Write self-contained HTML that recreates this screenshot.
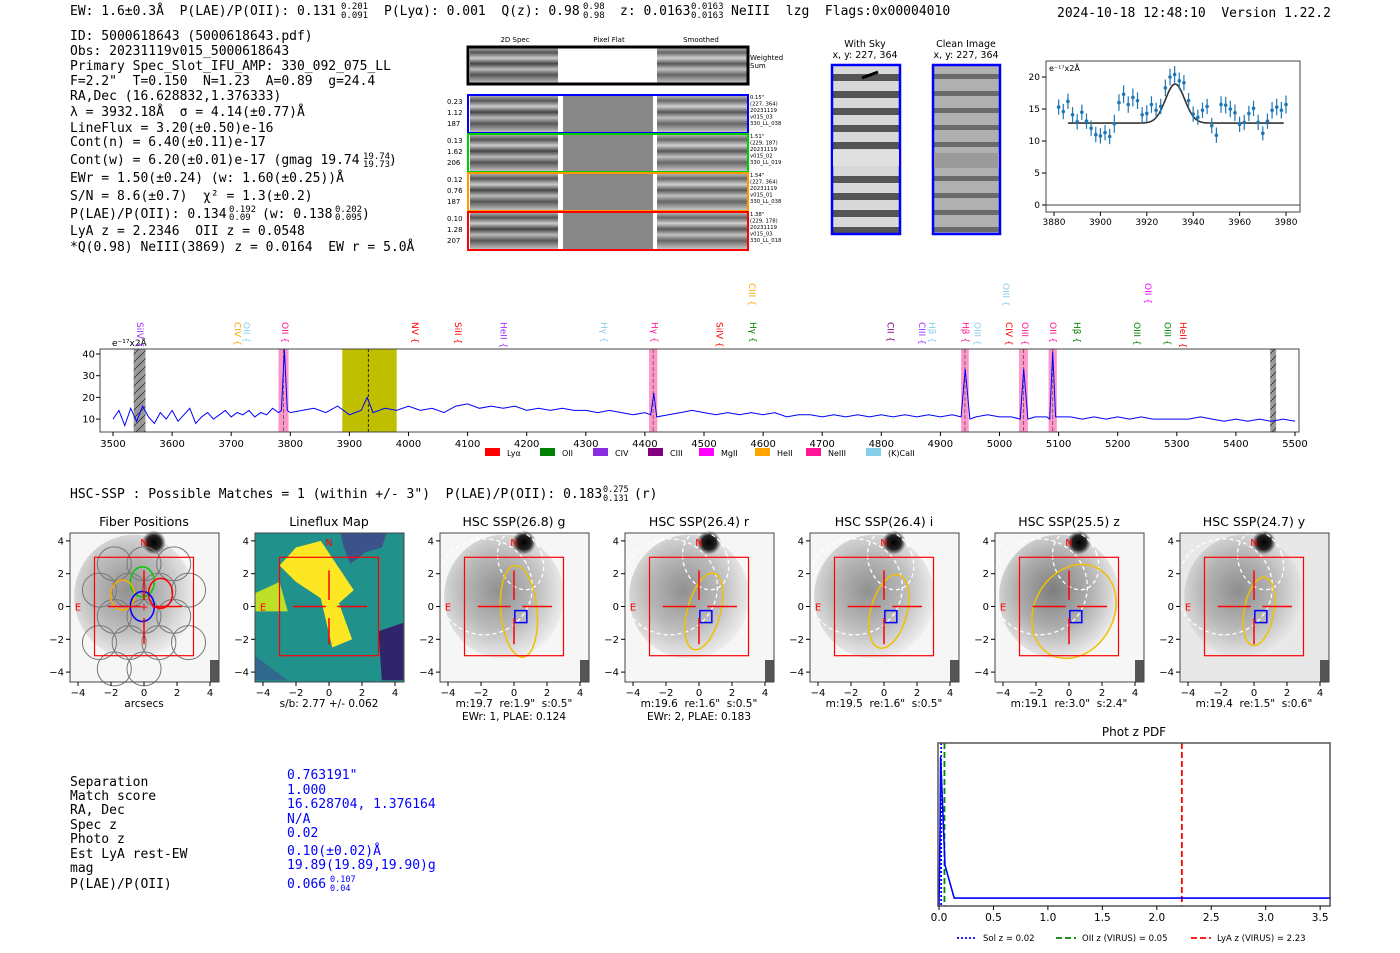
<!DOCTYPE html>
<html><head><meta charset="utf-8">
<style>
html,body{margin:0;padding:0;background:#fff;}
svg{display:block;font-family:"DejaVu Sans","Liberation Sans",sans-serif;}
text{white-space:pre;}
.mono{font-family:"DejaVu Sans Mono","Liberation Mono",monospace;}
</style></head>
<body>
<svg id="page" width="1400" height="953" viewBox="0 0 1400 953" xml:space="preserve">
<defs>
  <linearGradient id="bands" x1="0" y1="0" x2="0" y2="1">
    <stop offset="0" stop-color="#bbb"/><stop offset="0.15" stop-color="#555"/><stop offset="0.3" stop-color="#ccc"/>
    <stop offset="0.45" stop-color="#444"/><stop offset="0.6" stop-color="#bbb"/><stop offset="0.75" stop-color="#555"/><stop offset="1" stop-color="#ccc"/>
  </linearGradient>
  <pattern id="skyp" width="68" height="17" patternUnits="userSpaceOnUse">
    <rect width="68" height="17" fill="#d8d8d8"/><rect y="6" width="68" height="7" fill="#555"/>
  </pattern>
  <pattern id="cleanp" width="68" height="17" patternUnits="userSpaceOnUse">
    <rect width="68" height="17" fill="#b0b0b0"/><rect y="6" width="68" height="5" fill="#6a6a6a"/>
  </pattern>
  <radialGradient id="gal" cx="0.45" cy="0.45" r="0.6">
    <stop offset="0" stop-color="#777"/><stop offset="0.5" stop-color="#aaa"/><stop offset="1" stop-color="#f4f4f4"/>
  </radialGradient>
  <radialGradient id="star"><stop offset="0" stop-color="#000"/><stop offset="0.6" stop-color="#222"/><stop offset="1" stop-color="#222" stop-opacity="0"/></radialGradient>
  <pattern id="hatch" width="8" height="8" patternUnits="userSpaceOnUse"><rect width="8" height="8" fill="#999"/><path d="M0 8 L8 0" stroke="#333" stroke-width="0.8"/></pattern>
</defs>

<g class="mono" font-size="13" fill="#000">
  <text x="70" y="15">EW: 1.6±0.3Å  P(LAE)/P(OII): 0.131</text>
  <text x="341" y="9" font-size="9">0.201</text><text x="341" y="18" font-size="9">0.091</text>
  <text x="384" y="15">P(Lyα): 0.001  Q(z): 0.98</text>
  <text x="583" y="9" font-size="9">0.98</text><text x="583" y="18" font-size="9">0.98</text>
  <text x="620" y="15">z: 0.0163</text>
  <text x="691" y="9" font-size="9">0.0163</text><text x="691" y="18" font-size="9">0.0163</text>
  <text x="731" y="15">NeIII  lzg  Flags:0x00004010</text>
  <text x="1057" y="17">2024-10-18 12:48:10  Version 1.22.2</text>
</g>

<g class="mono" font-size="13" fill="#000">
  <text x="70" y="40">ID: 5000618643 (5000618643.pdf)</text>
  <text x="70" y="55">Obs: 20231119v015_5000618643</text>
  <text x="70" y="70">Primary Spec_Slot_IFU_AMP: 330_092_075_LL</text>
  <text x="70" y="85">F=2.2"  T=0.150  N=1.23  A=0.89  g=24.4</text>
  <text x="70" y="100">RA,Dec (16.628832,1.376333)</text>
  <text x="70" y="116">λ = 3932.18Å  σ = 4.14(±0.77)Å</text>
  <text x="70" y="132">LineFlux = 3.20(±0.50)e-16</text>
  <text x="70" y="146">Cont(n) = 6.40(±0.11)e-17</text>
  <text x="70" y="164">Cont(w) = 6.20(±0.01)e-17 (gmag 19.74</text>
  <text x="363" y="159" font-size="9">19.74</text><text x="363" y="167" font-size="9">19.73</text><text x="389" y="164">)</text>
  <text x="70" y="182">EWr = 1.50(±0.24) (w: 1.60(±0.25))Å</text>
  <text x="70" y="200">S/N = 8.6(±0.7)  χ² = 1.3(±0.2)</text>
  <text x="70" y="218">P(LAE)/P(OII): 0.134</text>
  <text x="229" y="212" font-size="9">0.192</text><text x="229" y="220" font-size="9">0.09</text>
  <text x="262" y="218">(w: 0.138</text>
  <text x="335" y="212" font-size="9">0.202</text><text x="335" y="220" font-size="9">0.095</text><text x="362" y="218">)</text>
  <text x="70" y="235">LyA z = 2.2346  OII z = 0.0548</text>
  <text x="70" y="251">*Q(0.98) NeIII(3869) z = 0.0164  EW r = 5.0Å</text>
</g>

<g id="spec2d" font-size="7">
  <text x="515" y="42" text-anchor="middle">2D Spec</text>
  <text x="609" y="42" text-anchor="middle">Pixel Flat</text>
  <text x="701" y="42" text-anchor="middle">Smoothed</text>
</g>

<g font-size="9.5">
  <text x="865" y="47" text-anchor="middle">With Sky</text>
  <text x="865" y="58" text-anchor="middle">x, y: 227, 364</text>
  <rect x="832" y="65" width="68" height="169" fill="url(#skyp)" stroke="#00f" stroke-width="2.5"/>
  <rect x="833" y="150" width="66" height="16" fill="#e0e0e0"/>
  <line x1="862" y1="78" x2="878" y2="72" stroke="#000" stroke-width="3"/>
  <text x="966" y="47" text-anchor="middle">Clean Image</text>
  <text x="966" y="58" text-anchor="middle">x, y: 227, 364</text>
  <rect x="933" y="65" width="67" height="169" fill="url(#cleanp)" stroke="#00f" stroke-width="2.5"/>
  <rect x="934" y="153" width="65" height="15" fill="#9a9a9a"/>
</g>

<g id="fit"></g>
<g id="spec"></g>

<text x="70" y="498" class="mono" font-size="13">HSC-SSP : Possible Matches = 1 (within +/- 3")  P(LAE)/P(OII): 0.183</text>
<text x="603" y="492" class="mono" font-size="8.5">0.275</text><text x="603" y="501" class="mono" font-size="8.5">0.131</text>
<text x="634" y="498" class="mono" font-size="13">(r)</text>

<g id="cutouts"></g>

<g class="mono" font-size="13">
  <text x="70" y="786">Separation</text><text x="287" y="779" fill="#00f">0.763191"</text>
  <text x="70" y="800">Match score</text><text x="287" y="794" fill="#00f">1.000</text>
  <text x="70" y="814">RA, Dec</text><text x="287" y="808" fill="#00f">16.628704, 1.376164</text>
  <text x="70" y="829">Spec z</text><text x="287" y="823" fill="#00f">N/A</text>
  <text x="70" y="843">Photo z</text><text x="287" y="837" fill="#00f">0.02</text>
  <text x="70" y="858">Est LyA rest-EW</text><text x="287" y="855" fill="#00f">0.10(±0.02)Å</text>
  <text x="70" y="872">mag</text><text x="287" y="869" fill="#00f">19.89(19.89,19.90)g</text>
  <text x="70" y="888">P(LAE)/P(OII)</text><text x="287" y="888" fill="#00f">0.066</text>
  <text x="330" y="882" font-size="8.5" fill="#00f">0.107</text><text x="330" y="891" font-size="8.5" fill="#00f">0.04</text>
</g>

<g id="photz"></g>
</svg>

<script>
const NS='http://www.w3.org/2000/svg';
function mk(parent,tag,attrs,txt){const e=document.createElementNS(NS,tag);for(const k in attrs)e.setAttribute(k,attrs[k]);if(txt!==undefined)e.textContent=txt;parent.appendChild(e);return e;}

const rowColors=['#000','#00f','#0c0','#f90','#f00'];
const rowTops=[47,95,134,173,212];
const rowLabels=[[],['0.23','1.12','187'],['0.13','1.62','206'],['0.12','0.76','187'],['0.10','1.28','207']];
const rowNotes=[['Weighted','Sum'],['0.15"','(227, 364)','20231119','v015_03','330_LL_038'],['1.51"','(229, 187)','20231119','v015_02','330_LL_019'],['1.54"','(227, 364)','20231119','v015_01','330_LL_038'],['1.38"','(229, 178)','20231119','v015_03','330_LL_018']];
(function(){
 const g=document.getElementById('spec2d');
 rowTops.forEach((t,i)=>{
  const h=i===0?37:38;
  const r=mk(g,'g',{});
  
  
  mk(r,'rect',{x:470,y:t,width:88,height:h,fill:'url(#bands)'});
  mk(r,'rect',{x:563,y:t,width:90,height:h,fill:i===0?'#fff':'#888'});
  mk(r,'rect',{x:657,y:t,width:90,height:h,fill:'url(#bands)',opacity:0.9});
  mk(r,'rect',{x:468,y:t,width:280,height:h,fill:'none',stroke:rowColors[i],'stroke-width':i===0?3:2});
  rowLabels[i].forEach((s,j)=>mk(r,'text',{x:447,y:t+9+j*11,'font-size':7},s));
  rowNotes[i].forEach((s,j)=>mk(r,'text',{x:750,y:t+(i===0?13:4)+j*(i===0?8:6.5),'font-size':i===0?7:5.3},s));
 });
})();

const fitWave=[3882,3884,3886,3888,3890,3892,3894,3896,3898,3900,3902,3904,3906,3908,3910,3912,3914,3916,3918,3920,3922,3924,3926,3928,3930,3932,3934,3936,3938,3940,3942,3944,3946,3948,3950,3952,3954,3956,3958,3960,3962,3964,3966,3968,3970,3972,3974,3976,3978,3980];
const fitFlux=[15.3,14.6,16.2,14.1,13.0,14.5,13.1,12.0,11.0,10.8,11.3,10.7,12.7,16.0,17.3,15.7,16.8,16.3,14.1,14.3,15.7,14.8,15.4,18.3,20.0,20.4,19.4,19.1,16.3,14.2,13.7,14.8,15.4,12.4,10.9,15.7,15.6,15.0,14.4,12.6,12.9,14.3,15.1,12.9,11.2,13.1,14.8,15.3,14.8,15.7];
const fitErr=[1.2,1.2,1.2,1.2,1.2,1.2,1.2,1.2,1.2,1.2,1.2,1.2,1.4,1.3,1.4,1.3,1.4,1.3,1.2,1.3,1.3,1.2,1.2,1.3,1.3,1.3,1.3,1.2,1.2,1.2,1.2,1.2,1.2,1.2,1.2,1.3,1.3,1.3,1.3,1.2,1.2,1.2,1.2,1.2,1.1,1.2,1.3,1.3,1.3,1.4];
const fitYTicks=[0,5,10,15,20];
const fitXTicks=[3880,3900,3920,3940,3960,3980];
const fitCont=12.8, fitAmp=6.1, fitMu=3932.2, fitSigma=4.14;
(function(){
 const g=document.getElementById('fit');
 const x=w=>1054+(w-3880)*2.32, y=v=>205-v*6.4;
 mk(g,'rect',{x:1046,y:61,width:254,height:151,fill:'none',stroke:'#444','stroke-width':1});
 mk(g,'line',{x1:1046,x2:1300,y1:y(0),y2:y(0),stroke:'#444','stroke-width':1});
 fitYTicks.forEach(v=>{mk(g,'line',{x1:1042,x2:1046,y1:y(v),y2:y(v),stroke:'#000'});mk(g,'text',{x:1040,y:y(v)+3,'font-size':9,'text-anchor':'end'},v);});
 fitXTicks.forEach(v=>{mk(g,'line',{x1:x(v),x2:x(v),y1:212,y2:216,stroke:'#000'});mk(g,'text',{x:x(v),y:225,'font-size':9,'text-anchor':'middle'},v);});
 mk(g,'text',{x:1049,y:71,'font-size':8},'e⁻¹⁷x2Å');
 let d='';
 for(let w=3886;w<=3979;w+=0.5){const v=fitCont+fitAmp*Math.exp(-0.5*((w-fitMu)/fitSigma)**2);d+=(d?'L':'M')+x(w).toFixed(1)+' '+y(v).toFixed(1);}
 const m=mk(g,'path',{d:d,fill:'none',stroke:'#333','stroke-width':1.6});
 
 
 fitWave.forEach((w,i)=>{
  const p=mk(g,'g',{});
  
  
  mk(p,'line',{x1:x(w),x2:x(w),y1:y(fitFlux[i]-fitErr[i]),y2:y(fitFlux[i]+fitErr[i]),stroke:'#1f77b4','stroke-width':1.2});
  mk(p,'circle',{cx:x(w),cy:y(fitFlux[i]),r:1.8,fill:'#1f77b4'});
 });
})();

const specWave=[3500,3510,3520,3530,3540,3550,3560,3570,3580,3590,3600,3610,3620,3630,3640,3650,3660,3670,3680,3690,3700,3710,3720,3730,3740,3750,3760,3770,3780,3785,3790,3795,3800,3820,3840,3860,3880,3900,3920,3930,3940,3960,3980,4000,4020,4040,4060,4080,4100,4120,4140,4160,4180,4200,4220,4240,4260,4280,4300,4320,4340,4360,4380,4400,4410,4415,4420,4440,4460,4480,4500,4520,4540,4560,4580,4600,4620,4640,4660,4680,4700,4720,4740,4760,4780,4800,4820,4840,4860,4880,4900,4920,4935,4942,4950,4960,4980,5000,5020,5035,5041,5048,5060,5080,5085,5090,5095,5100,5120,5140,5160,5180,5200,5220,5240,5260,5280,5300,5320,5340,5360,5380,5400,5420,5440,5460,5480,5500];
const specFlux=[10,14,7,15,9,16,11,8,13,10,14,9,12,15,8,11,13,10,12,14,11,13,12,14,11,13,12,15,13,14,42,14,13,14,15,13,16,12,14,20,13,15,14,16,14,15,13,16,17,15,16,15,16,14,15,14,15,14,14,13,14,13,12,13,12,22,11,12,13,14,13,12,13,12,13,12,13,11,12,12,11,12,11,12,11,12,11,12,11,12,11,12,11,33,10,11,12,11,11,10,33,10,11,11,10,41,11,11,11,10,11,10,11,10,11,10,10,10,10,11,10,9,10,9,10,9,10,9];
const specYTicks=[10,20,30,40];
const specXTicks=[3500,3600,3700,3800,3900,4000,4100,4200,4300,4400,4500,4600,4700,4800,4900,5000,5100,5200,5300,5400,5500];
const lineNames=['SiIV','CIV','OII','OII','NV','SiII','HeII','Hγ','Hγ','SiIV','Hγ','CIII','CII','CIII','Hβ','Hβ','OIII','CIV','OIII','OIII','OII','Hβ','OIII','OIII','HeII','OII'];
const lineWaves=[3545,3710,3725,3790,4010,4083,4160,4330,4415,4525,4582,4580,4815,4868,4885,4942,4962,5015,5042,5010,5090,5130,5232,5283,5310,5250];
const lineColors=['#9b30ff','#ffa500','#87ceeb','#ff1493','#ff0000','#ff0000','#9b30ff','#87ceeb','#ff1493','#ff0000','#008000','#ffa500','#800080','#9b30ff','#87ceeb','#ff1493','#87ceeb','#ff0000','#ff1493','#87ceeb','#ff1493','#008000','#008000','#008000','#ff0000','#ff00ff'];
const lineRows=[0,0,0,0,0,0,0,0,0,0,0,1,0,0,0,0,0,0,0,1,0,0,0,0,0,1];
const legendNames=['Lyα','OII','CIV','CIII','MgII','HeII','NeIII','(K)CaII'];
const legendColors=['#ff0000','#008000','#8a2be2','#800080','#ff00ff','#ffa500','#ff1493','#87ceeb'];
const pinkBands=[[3780,3797],[4407,4421],[4935,4948],[5033,5048],[5083,5097]];
(function(){
 const g=document.getElementById('spec');
 const x=w=>113+(w-3500)*0.591, y=v=>354+(40-v)*2.17;
 mk(g,'rect',{x:x(3535),y:349,width:x(3555)-x(3535),height:83,fill:'url(#hatch)'});
 mk(g,'rect',{x:x(5458),y:349,width:x(5468)-x(5458),height:83,fill:'url(#hatch)'});
 const yb=mk(g,'rect',{x:x(3888),y:349,width:x(3980)-x(3888),height:83,fill:'#bfbf00'});
 
 
 mk(g,'line',{x1:x(3932),x2:x(3932),y1:349,y2:432,stroke:'#000','stroke-dasharray':'3,2','stroke-width':0.8});
 pinkBands.forEach(b=>{
  const r=mk(g,'rect',{x:x(b[0]),y:349,width:x(b[1])-x(b[0]),height:83,fill:'#ff69b4',opacity:0.7});
  
  
  const c=(b[0]+b[1])/2;
  mk(g,'line',{x1:x(c),x2:x(c),y1:349,y2:432,stroke:'#555','stroke-dasharray':'4,2','stroke-width':0.8});
 });
 let d='';
 specWave.forEach((w,i)=>{d+=(i?'L':'M')+x(w).toFixed(1)+' '+Math.max(349,y(specFlux[i])).toFixed(1);});
 const p=mk(g,'path',{d:d,fill:'none',stroke:'#00f','stroke-width':1});
 
 
 mk(g,'rect',{x:100,y:349,width:1199,height:83,fill:'none',stroke:'#444','stroke-width':1});
 specYTicks.forEach(v=>{mk(g,'line',{x1:96,x2:100,y1:y(v),y2:y(v),stroke:'#000'});mk(g,'text',{x:95,y:y(v)+3.5,'font-size':10,'text-anchor':'end'},v);});
 specXTicks.forEach(v=>{mk(g,'line',{x1:x(v),x2:x(v),y1:432,y2:436,stroke:'#000'});mk(g,'text',{x:x(v),y:447,'font-size':10,'text-anchor':'middle'},v);});
 mk(g,'text',{x:112,y:346,'font-size':9},'e⁻¹⁷x2Å');
 lineNames.forEach((n,i)=>{
  const ly=lineRows[i]?283:322, lx=x(lineWaves[i]);
  const t=mk(g,'text',{x:lx,y:ly,'font-size':9,fill:lineColors[i],transform:'rotate(90 '+lx+' '+ly+')','dominant-baseline':'middle'},n+' {');
  
  
 });
 const lx0=[485,540,593,648,699,755,806,866];
 legendNames.forEach((n,i)=>{
  const e=mk(g,'g',{});
  
  
  mk(e,'rect',{x:lx0[i],y:448,width:15,height:8,fill:legendColors[i]});
  mk(e,'text',{x:lx0[i]+22,y:456,'font-size':8},n);
 });
})();

const panelTitles=['Fiber Positions','Lineflux Map','HSC SSP(26.8) g','HSC SSP(26.4) r','HSC SSP(26.4) i','HSC SSP(25.5) z','HSC SSP(24.7) y'];
const panelSub1=['arcsecs','s/b: 2.77 +/- 0.062','m:19.7  re:1.9"  s:0.5"','m:19.6  re:1.6"  s:0.5"','m:19.5  re:1.6"  s:0.5"','m:19.1  re:3.0"  s:2.4"','m:19.4  re:1.5"  s:0.6"'];
const panelSub2=['','','EWr: 1, PLAE: 0.124','EWr: 2, PLAE: 0.183','','',''];
const ellRx=[0,0,1.1,1.0,1.1,2.4,0.9];
const ellRy=[0,0,2.8,2.4,2.3,3.0,2.1];
const ellRot=[0,0,-5,15,15,30,10];
const axTicks=[-4,-2,0,2,4];
(function(){
 const g=document.getElementById('cutouts');
 panelTitles.forEach((title,i)=>{
  const L=[70,255,440,625,810,995,1180][i], cx=L+74, cy=606.5;
  const X=a=>cx+a*16.5, Y=b=>cy-b*16.4;
  const p=mk(g,'g',{});
  
  
  mk(p,'text',{x:cx,y:526,'font-size':12.5,'text-anchor':'middle'},title);
  if(i===1){
   mk(p,'rect',{x:L,y:533,width:149,height:149,fill:'#21918c'});
   mk(p,'path',{d:`M${X(-2)} ${Y(3.6)} L${X(-0.5)} ${Y(4)} L${X(0.5)} ${Y(2.5)} L${X(1.5)} ${Y(1)} L${X(0.6)} ${Y(0.2)} L${X(1.4)} ${Y(-2)} L${X(0.2)} ${Y(-2.5)} L${X(-0.5)} ${Y(0.5)} L${X(-2)} ${Y(1.5)} L${X(-3)} ${Y(2.5)} Z`,fill:'#fde725'});
   mk(p,'path',{d:`M${X(-4.5)} ${Y(0.8)} L${X(-3)} ${Y(1.5)} L${X(-2.5)} ${Y(-0.3)} L${X(-4.5)} ${Y(-0.3)} Z`,fill:'#bddf26'});
   mk(p,'path',{d:`M${X(0.7)} ${Y(4.5)} L${X(3.5)} ${Y(4.5)} L${X(3.2)} ${Y(3.6)} L${X(2.2)} ${Y(3.3)} L${X(1.3)} ${Y(2.6)} L${X(0.9)} ${Y(3.6)} Z`,fill:'#3b528b'});
   mk(p,'path',{d:`M${X(3)} ${Y(-1.5)} L${X(4.5)} ${Y(-1)} L${X(4.5)} ${Y(-4.5)} L${X(3.2)} ${Y(-4.5)} Z`,fill:'#30246a'});
   mk(p,'path',{d:`M${X(-4.5)} ${Y(-3)} L${X(-2.5)} ${Y(-4.5)} L${X(-4.5)} ${Y(-4.5)} Z`,fill:'#31688e'});
  } else {
   mk(p,'rect',{x:L,y:533,width:149,height:149,fill:i===6?'#e8e8e8':'#f6f6f6'});
   mk(p,'ellipse',{cx:X(-0.6),cy:Y(0.6),rx:60,ry:62,fill:'url(#gal)',opacity:i===5?0.95:0.8});
   mk(p,'circle',{cx:X(0.6),cy:Y(3.9),r:12,fill:'url(#star)'});
   mk(p,'rect',{x:L+140,y:660,width:9,height:22,fill:'#555'});
  }
  if(i===0){
   const fc=[[-1.8,2.6],[0,2.6],[1.8,2.6],[-2.7,1],[-0.9,1],[0.9,1],[2.7,1],[-1.8,-0.6],[0,-0.6],[1.8,-0.6],[-2.7,-2.2],[-0.9,-2.2],[0.9,-2.2],[2.7,-2.2],[-1.8,-3.8],[0,-3.8]];
   fc.forEach(f=>mk(p,'circle',{cx:X(f[0]),cy:Y(f[1]),r:17,fill:'none',stroke:'#777','stroke-width':1}));
   [['#0c0',-0.1,1.5],['#fa0',-1.3,0.7],['#f00',1,0.8],['#00f',-0.1,0]].forEach(c=>mk(p,'ellipse',{cx:X(c[1]),cy:Y(c[2]),rx:12,ry:15,fill:'none',stroke:c[0],'stroke-width':1.5}));
  }
  if(i>=2){
   mk(p,'circle',{cx:X(-1.8),cy:Y(1.2),r:48,fill:'none',stroke:'#fff','stroke-width':1.3,'stroke-dasharray':'4,3'});
   mk(p,'ellipse',{cx:X(0.4),cy:Y(2.8),rx:22,ry:30,fill:'none',stroke:'#fff','stroke-width':1.3,'stroke-dasharray':'4,3',transform:`rotate(-20 ${X(0.4)} ${Y(2.8)})`});
   const e=mk(p,'ellipse',{cx:X(0.3),cy:Y(-0.3),rx:ellRx[i]*16.5,ry:ellRy[i]*16.4,fill:'none',stroke:'#f0c000','stroke-width':1.5,transform:`rotate(${ellRot[i]} ${X(0.3)} ${Y(-0.3)})`});
   
   
   mk(p,'rect',{x:X(0.05),y:Y(-0.25),width:12,height:12,fill:'none',stroke:'#00f','stroke-width':1.5});
  }
  mk(p,'rect',{x:X(-3),y:Y(3),width:99,height:98.4,fill:'none',stroke:'#f00','stroke-width':1.2});
  [[X(-2.2),Y(0),X(-0.2),Y(0)],[X(0.5),Y(0),X(2.3),Y(0)],[X(0),Y(2.2),X(0),Y(0.4)],[X(0),Y(-0.7),X(0),Y(-2.3)]].forEach(l=>mk(p,'line',{x1:l[0],y1:l[1],x2:l[2],y2:l[3],stroke:'#f00','stroke-width':1.5}));
  if(i===0) mk(p,'text',{x:X(0),y:Y(0)+4,'font-size':11,fill:'#f00','text-anchor':'middle'},'+');
  mk(p,'text',{x:X(0),y:Y(4)+5,'font-size':10,fill:'#f00','text-anchor':'middle'},'N');
  mk(p,'text',{x:X(-4),y:Y(0)+4,'font-size':10,fill:'#f00','text-anchor':'middle'},'E');
  mk(p,'rect',{x:L,y:533,width:149,height:149,fill:'none',stroke:'#444','stroke-width':1});
  axTicks.forEach(v=>{
   mk(p,'line',{x1:X(v),x2:X(v),y1:682,y2:686,stroke:'#000'});
   mk(p,'text',{x:X(v),y:696,'font-size':10,'text-anchor':'middle'},(v<0?'−':'')+Math.abs(v));
   mk(p,'line',{x1:L-4,x2:L,y1:Y(v),y2:Y(v),stroke:'#000'});
   mk(p,'text',{x:L-6,y:Y(v)+3.5,'font-size':10,'text-anchor':'end'},(v<0?'−':'')+Math.abs(v));
  });
  mk(p,'text',{x:cx,y:707,'font-size':10.5,'text-anchor':'middle'},panelSub1[i]);
  if(panelSub2[i]) mk(p,'text',{x:cx,y:720,'font-size':10.5,'text-anchor':'middle'},panelSub2[i]);
 });
})();

const pdfZ=[0.0,0.01,0.015,0.055,0.14,3.6];
const pdfP=[0.0,0.5,0.95,0.26,0.05,0.05];
const photZTicks=[0,0.5,1,1.5,2,2.5,3,3.5];
const markZ=[0.02,0.05,2.23];
const markColors=['#00f','#008000','#f00'];
const markDash=['2,2','6,3','6,3'];
const markNames=['Sol z = 0.02','OII z (VIRUS) = 0.05','LyA z (VIRUS) = 2.23'];
(function(){
 const g=document.getElementById('photz');
 const x=z=>939+z*108.9, y=v=>906-v*157;
 mk(g,'text',{x:1134,y:736,'font-size':12,'text-anchor':'middle'},'Phot z PDF');
 markZ.forEach((z,i)=>{const l=mk(g,'line',{x1:x(z),x2:x(z),y1:743,y2:906,stroke:markColors[i],'stroke-width':1.8,'stroke-dasharray':markDash[i]});
  
  });
 let d='';pdfZ.forEach((z,i)=>{d+=(i?'L':'M')+x(z).toFixed(1)+' '+y(pdfP[i]).toFixed(1);});
 const p=mk(g,'path',{d:d,fill:'none',stroke:'#00f','stroke-width':1.6});
 
 
 mk(g,'rect',{x:938,y:743,width:392,height:163,fill:'none',stroke:'#555','stroke-width':1.5});
 photZTicks.forEach(v=>{mk(g,'line',{x1:x(v),x2:x(v),y1:906,y2:910,stroke:'#000'});mk(g,'text',{x:x(v),y:921,'font-size':10.5,'text-anchor':'middle'},v.toFixed(1));});
 const lx=[957,1056,1191];
 markNames.forEach((n,i)=>{
  const e=mk(g,'g',{});
  
  
  mk(e,'line',{x1:lx[i],x2:lx[i]+20,y1:938,y2:938,stroke:markColors[i],'stroke-width':1.8,'stroke-dasharray':markDash[i]});
  mk(e,'text',{x:lx[i]+26,y:941,'font-size':8.5},n);
 });
})();
</script>
</body></html>
